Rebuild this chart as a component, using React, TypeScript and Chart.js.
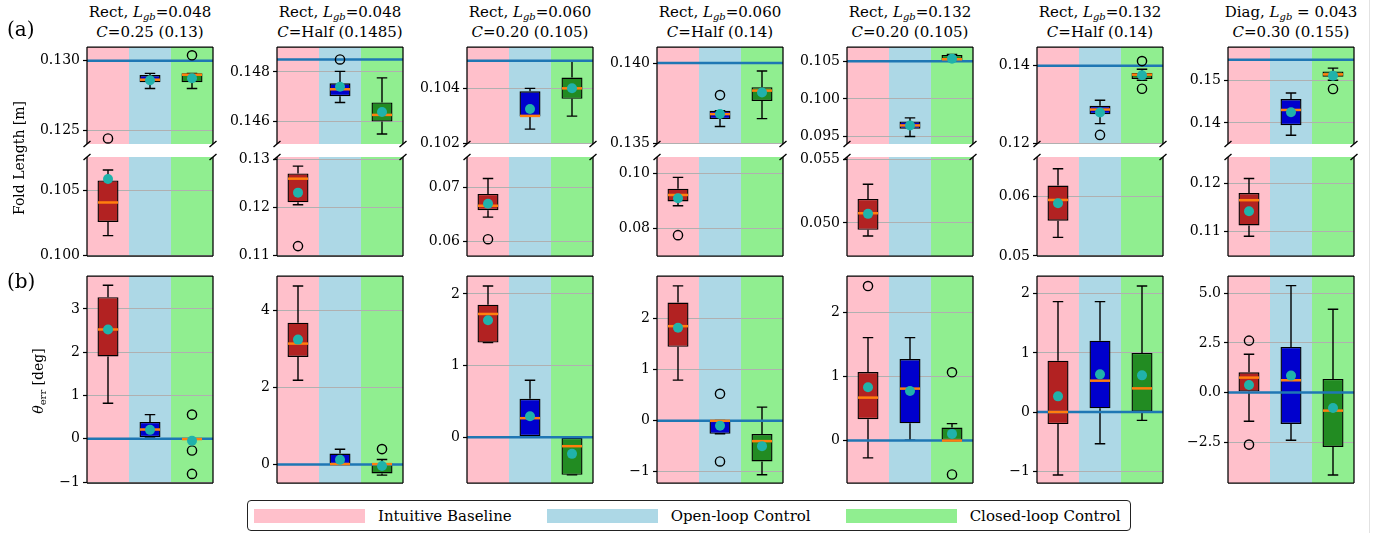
import React, { useEffect, useRef } from "react";
import { Chart, registerables } from "chart.js";

Chart.register(...registerables);

const FONT = "'DejaVu Serif', serif";

const CATEGORIES = ["Intuitive Baseline", "Open-loop Control", "Closed-loop Control"];
const BAND_COLORS = ["#ffc0cb", "#add8e6", "#90ee90"];
const BOX_COLORS = ["#b22222", "#0000cd", "#228b22"];
const MEDIAN_COLOR = "#ff7f0e";
const MEAN_COLOR = "#20b2aa";
const TARGET_COLOR = "#1f77b4";

const SHAPES = ["Rect", "Rect", "Rect", "Rect", "Rect", "Rect", "Diag"];
const LGB_TEXT = ["=0.048", "=0.048", "=0.060", "=0.060", "=0.132", "=0.132", " = 0.043"];
const C_TEXT = ["=0.25 (0.13)", "=Half (0.1485)", "=0.20 (0.105)", "=Half (0.14)", "=0.20 (0.105)", "=Half (0.14)", "=0.30 (0.155)"];

// ---- Fold length [m] (row a), per panel: [baseline, open-loop, closed-loop]
const FOLD_TARGET = [0.13, 0.1485, 0.105, 0.14, 0.105, 0.14, 0.155];
const FOLD_WHISKER_LOW = [
  [0.10155, 0.128, 0.128],
  [0.1206, 0.14677, 0.1455],
  [0.0645, 0.10252, 0.10299],
  [0.08832, 0.13606, 0.13655],
  [0.04898, 0.095, 0.105],
  [0.05311, 0.12516, 0.1363],
  [0.10903, 0.13709, 0.1501],
];
const FOLD_Q1 = [
  [0.1026, 0.12845, 0.12845],
  [0.1211, 0.14702, 0.146],
  [0.06576, 0.10298, 0.10362],
  [0.08989, 0.13652, 0.13765],
  [0.04946, 0.09602, 0.105],
  [0.0559, 0.1276, 0.13663],
  [0.11129, 0.13946, 0.15095],
];
const FOLD_MEDIAN = [
  [0.1041, 0.12864, 0.129],
  [0.126, 0.1473, 0.14627],
  [0.06659, 0.103, 0.104],
  [0.09225, 0.13683, 0.13829],
  [0.05077, 0.09647, 0.10527],
  [0.05939, 0.12878, 0.13772],
  [0.11657, 0.14307, 0.15151],
];
const FOLD_Q3 = [
  [0.1058, 0.12898, 0.1291],
  [0.1271, 0.14754, 0.14677],
  [0.06874, 0.10389, 0.10439],
  [0.09454, 0.13704, 0.1385],
  [0.0519, 0.097, 0.10584],
  [0.0618, 0.12972, 0.13815],
  [0.11807, 0.14567, 0.15222],
];
const FOLD_WHISKER_HIGH = [
  [0.1066, 0.1291, 0.1291],
  [0.1286, 0.14802, 0.14776],
  [0.07156, 0.104, 0.10499],
  [0.09868, 0.13704, 0.13951],
  [0.05305, 0.09748, 0.1059],
  [0.06464, 0.13114, 0.13909],
  [0.12109, 0.14709, 0.153],
];
const FOLD_MEAN = [
  [0.1059, 0.1286, 0.12875],
  [0.1231, 0.1474, 0.14639],
  [0.06695, 0.10325, 0.104],
  [0.09107, 0.13683, 0.13817],
  [0.05072, 0.09647, 0.10535],
  [0.05885, 0.12803, 0.13757],
  [0.11424, 0.14253, 0.15118],
];
const FOLD_OUTLIERS = [
  [[0.1244], [], [0.1304]],
  [[0.112], [0.1485], []],
  [[0.06047], [], []],
  [[0.07761], [0.13801], []],
  [[], [], []],
  [[], [0.12228], [0.1341, 0.14119]],
  [[], [], [0.14804]],
];
// broken axis: upper and lower parts
const FOLD_UPPER_RANGE = [
  [0.124, 0.131], [0.1451, 0.149], [0.10198, 0.1055], [0.13497, 0.141],
  [0.094, 0.1069], [0.11995, 0.1448], [0.135, 0.158],
];
const FOLD_UPPER_TICKS = [
  [0.125, 0.13], [0.146, 0.148], [0.102, 0.104], [0.135, 0.14],
  [0.095, 0.1, 0.105], [0.12, 0.14], [0.14, 0.15],
];
const FOLD_UPPER_DECIMALS = [3, 3, 3, 3, 3, 2, 2];
const FOLD_LOWER_RANGE = [
  [0.09998, 0.1076], [0.10995, 0.1305], [0.0574, 0.0755], [0.07, 0.1061],
  [0.0474, 0.0552], [0.04998, 0.0666], [0.1049, 0.1256],
];
const FOLD_LOWER_TICKS = [
  [0.1, 0.105], [0.11, 0.12, 0.13], [0.06, 0.07], [0.08, 0.1],
  [0.05, 0.055], [0.05, 0.06], [0.11, 0.12],
];
const FOLD_LOWER_DECIMALS = [3, 2, 2, 2, 3, 2, 2];

// ---- theta_err [deg] (row b)
const THETA_TARGET = [0, 0, 0, 0, 0, 0, 0];
const THETA_WHISKER_LOW = [
  [0.821, 0.04, -0.01],
  [2.186, 0.01, -0.276],
  [1.32, 0.014, -0.526],
  [0.797, -0.255, -1.059],
  [-0.269, 0.005, 0.0],
  [-1.066, -0.536, -0.141],
  [-1.443, -2.4, -4.144],
];
const THETA_Q1 = [
  [1.903, 0.04, -0.01],
  [2.79, 0.01, -0.233],
  [1.32, 0.014, -0.526],
  [1.451, -0.255, -0.797],
  [0.332, 0.269, 0.0],
  [-0.203, 0.062, 0.0],
  [0.05, -1.577, -2.735],
];
const THETA_MEDIAN = [
  [2.525, 0.215, -0.005],
  [3.136, 0.01, 0.01],
  [1.72, 0.265, -0.126],
  [1.856, 0.0, -0.399],
  [0.668, 0.808, 0.0],
  [0.0, 0.53, 0.4],
  [0.755, 0.621, -0.906],
];
const THETA_Q3 = [
  [3.27, 0.39, 0.0],
  [3.68, 0.285, 0.03],
  [1.85, 0.535, -0.01],
  [2.32, 0.007, -0.261],
  [1.067, 1.269, 0.202],
  [0.869, 1.207, 1.0],
  [1.023, 2.3, 0.688],
];
const THETA_WHISKER_HIGH = [
  [3.546, 0.56, 0.0],
  [4.63, 0.397, 0.13],
  [2.11, 0.795, -0.01],
  [2.647, 0.007, 0.268],
  [1.601, 1.601, 0.264],
  [1.867, 1.867, 2.13],
  [1.93, 5.386, 4.195],
];
const THETA_MEAN = [
  [2.525, 0.207, -0.046],
  [3.24, 0.12, -0.04],
  [1.633, 0.293, -0.233],
  [1.824, -0.098, -0.497],
  [0.829, 0.772, 0.104],
  [0.265, 0.637, 0.62],
  [0.386, 0.856, -0.772],
];
const THETA_OUTLIERS = [
  [[], [], [0.56, -0.27, -0.81]],
  [[], [], [0.4]],
  [[], [], []],
  [[], [0.53, -0.797], []],
  [[2.404], [], [1.062, -0.528]],
  [[], [], []],
  [[2.617, -2.617], [], []],
];
const THETA_RANGE = [
  [-1.02, 3.76], [-0.48, 4.89], [-0.64, 2.25], [-1.22, 2.84],
  [-0.66, 2.56], [-1.2, 2.3], [-4.55, 5.87],
];
const THETA_TICKS = [
  [-1, 0, 1, 2, 3], [0, 2, 4], [0, 1, 2], [-1, 0, 1, 2],
  [0, 1, 2], [-1, 0, 1, 2], [-2.5, 0, 2.5, 5],
];
const THETA_DECIMALS = [0, 0, 0, 0, 0, 0, 1];

// ---- layout
const COL_LEFT = [87, 277, 467, 657, 847, 1037, 1228];
const PANEL_W = 126;
const ROW_UPPER = { top: 47, height: 97 };
const ROW_LOWER = { top: 157, height: 99 };
const ROW_THETA = { top: 276, height: 207 };
const AX = 66;
const PAD_T = 12;
const PAD_B = 12;
const PAD_R = 8;

type Spines = "upper" | "lower" | "all";

interface PanelProps {
  col: number;
  row: { top: number; height: number };
  range: number[];
  ticks: number[];
  decimals: number;
  target: number;
  spines: Spines;
  wlo: number[];
  q1: number[];
  med: number[];
  q3: number[];
  whi: number[];
  mean: number[];
  outliers: number[][];
}

function fmt(v: number, d: number) {
  const s = Math.abs(v) < 1e-12 ? (0).toFixed(d) : v.toFixed(d);
  return s.replace("-", "\u2212");
}

function Panel(p: PanelProps) {
  const ref = useRef<HTMLCanvasElement | null>(null);
  const width = AX + PANEL_W + PAD_R;
  const height = PAD_T + p.row.height + PAD_B;

  useEffect(() => {
    const canvas = ref.current;
    if (!canvas) return;

    const panelPlugin = {
      id: "panelDecor",
      beforeDraw(chart: any) {
        const { ctx, chartArea } = chart;
        const xs = chart.scales.x;
        const step = xs.getPixelForValue(1) - xs.getPixelForValue(0);
        ctx.save();
        CATEGORIES.forEach((_, i) => {
          const cx = xs.getPixelForValue(i);
          ctx.fillStyle = BAND_COLORS[i];
          ctx.fillRect(cx - step / 2, chartArea.top, step, chartArea.bottom - chartArea.top);
        });
        ctx.restore();
      },
      afterDatasetDraw(chart: any, args: any) {
        if (args.index !== 0) return;
        const { ctx, chartArea } = chart;
        const ys = chart.scales.y;
        const meta = chart.getDatasetMeta(0);
        ctx.save();
        ctx.beginPath();
        ctx.rect(chartArea.left, chartArea.top, chartArea.right - chartArea.left, chartArea.bottom - chartArea.top);
        ctx.clip();
        // whiskers and caps
        ctx.strokeStyle = "#000";
        ctx.lineWidth = 1.4;
        meta.data.forEach((bar: any, i: number) => {
          const x = bar.x;
          const half = bar.width / 2;
          const yq1 = ys.getPixelForValue(p.q1[i]);
          const yq3 = ys.getPixelForValue(p.q3[i]);
          const ylo = ys.getPixelForValue(p.wlo[i]);
          const yhi = ys.getPixelForValue(p.whi[i]);
          ctx.beginPath();
          ctx.moveTo(x, yq3);
          ctx.lineTo(x, yhi);
          ctx.moveTo(x, yq1);
          ctx.lineTo(x, ylo);
          ctx.moveTo(x - half / 2, yhi);
          ctx.lineTo(x + half / 2, yhi);
          ctx.moveTo(x - half / 2, ylo);
          ctx.lineTo(x + half / 2, ylo);
          ctx.stroke();
        });
        // target line
        const yt = ys.getPixelForValue(p.target);
        ctx.strokeStyle = TARGET_COLOR;
        ctx.lineWidth = 2.5;
        ctx.beginPath();
        ctx.moveTo(chartArea.left, yt);
        ctx.lineTo(chartArea.right, yt);
        ctx.stroke();
        // medians
        ctx.strokeStyle = MEDIAN_COLOR;
        ctx.lineWidth = 2.5;
        meta.data.forEach((bar: any, i: number) => {
          const ym = ys.getPixelForValue(p.med[i]);
          ctx.beginPath();
          ctx.moveTo(bar.x - bar.width / 2 + 0.5, ym);
          ctx.lineTo(bar.x + bar.width / 2 - 0.5, ym);
          ctx.stroke();
        });
        ctx.restore();
      },
      afterDraw(chart: any) {
        const { ctx, chartArea } = chart;
        const { left, right, top, bottom } = chartArea;
        ctx.save();
        ctx.strokeStyle = "#000";
        ctx.lineWidth = 1.25;
        ctx.beginPath();
        ctx.moveTo(left, top);
        ctx.lineTo(left, bottom);
        ctx.moveTo(right, top);
        ctx.lineTo(right, bottom);
        if (p.spines !== "lower") {
          ctx.moveTo(left, top);
          ctx.lineTo(right, top);
        }
        if (p.spines !== "upper") {
          ctx.moveTo(left, bottom);
          ctx.lineTo(right, bottom);
        }
        ctx.stroke();
        // break marks
        if (p.spines !== "all") {
          const y = p.spines === "upper" ? bottom : top;
          ctx.lineWidth = 1.4;
          ctx.beginPath();
          [left, right].forEach((x) => {
            ctx.moveTo(x - 3.5, y + 3);
            ctx.lineTo(x + 3.5, y - 3);
          });
          ctx.stroke();
        }
        ctx.restore();
      },
    };

    const meanData = p.mean.map((v, i) => ({ x: CATEGORIES[i], y: v }));
    const outlierData: { x: string; y: number }[] = [];
    p.outliers.forEach((arr, i) => arr.forEach((v) => outlierData.push({ x: CATEGORIES[i], y: v })));

    const chart = new Chart(canvas, {
      type: "bar",
      data: {
        labels: CATEGORIES,
        datasets: [
          {
            type: "bar",
            data: p.q1.map((v, i) => [v, p.q3[i]]),
            backgroundColor: BOX_COLORS,
            borderColor: "#000",
            borderWidth: 1.4,
            borderSkipped: false,
            barPercentage: 0.5,
            categoryPercentage: 1,
            clip: 0,
            order: 3,
          } as any,
          {
            type: "line",
            data: outlierData,
            showLine: false,
            pointRadius: 4.6,
            pointBackgroundColor: "rgba(0,0,0,0)",
            pointBorderColor: "#000",
            pointBorderWidth: 1.4,
            clip: 0,
            order: 2,
          } as any,
          {
            type: "line",
            data: meanData,
            showLine: false,
            pointRadius: 5,
            pointBackgroundColor: MEAN_COLOR,
            pointBorderColor: MEAN_COLOR,
            pointBorderWidth: 0,
            clip: 0,
            order: 1,
          } as any,
        ],
      },
      options: {
        responsive: false,
        maintainAspectRatio: false,
        animation: false,
        devicePixelRatio: 1,
        events: [],
        layout: { padding: { left: 0, right: PAD_R, top: PAD_T, bottom: PAD_B } },
        plugins: { legend: { display: false }, tooltip: { enabled: false }, title: { display: false } },
        scales: {
          x: { type: "category", display: false, offset: true, grid: { display: false } },
          y: {
            type: "linear",
            min: p.range[0],
            max: p.range[1],
            afterBuildTicks: (scale: any) => {
              scale.ticks = p.ticks.map((v) => ({ value: v }));
            },
            afterFit: (scale: any) => {
              scale.width = AX;
            },
            ticks: {
              autoSkip: false,
              padding: 3,
              color: "#000",
              font: { family: FONT, size: 14 },
              callback: (v: any) => fmt(Number(v), p.decimals),
            },
            grid: {
              color: "#b0b0b0",
              lineWidth: 1,
              drawTicks: true,
              tickLength: 4,
              tickColor: "#000",
              tickWidth: 1.2,
            },
            border: { display: false },
          },
        },
      } as any,
      plugins: [panelPlugin],
    });
    return () => chart.destroy();
  }, []);

  return (
    <canvas
      ref={ref}
      width={width}
      height={height}
      style={{
        position: "absolute",
        left: COL_LEFT[p.col] - AX,
        top: p.row.top - PAD_T,
        width,
        height,
      }}
    />
  );
}

const subStyle: React.CSSProperties = { fontSize: 10, verticalAlign: "-3px", lineHeight: 0 };

export default function App() {
  const cols = [0, 1, 2, 3, 4, 5, 6];
  return (
    <div
      style={{
        position: "absolute",
        left: 0,
        top: 0,
        width: 1385,
        height: 533,
        overflow: "hidden",
        background: "#fff",
        fontFamily: FONT,
        color: "#000",
      }}
    >
      {cols.map((c) => (
        <div
          key={"t" + c}
          style={{
            position: "absolute",
            left: COL_LEFT[c] + PANEL_W / 2 - 95,
            top: 2,
            width: 190,
            textAlign: "center",
            fontSize: 15,
            lineHeight: "20px",
            whiteSpace: "nowrap",
          }}
        >
          <div>
            {SHAPES[c]}, <i>L</i>
            <sub style={subStyle}>
              <i>gb</i>
            </sub>
            {LGB_TEXT[c]}
          </div>
          <div>
            <i>C</i>
            {C_TEXT[c]}
          </div>
        </div>
      ))}

      {cols.map((c) => (
        <React.Fragment key={"p" + c}>
          <Panel
            col={c}
            row={ROW_UPPER}
            range={FOLD_UPPER_RANGE[c]}
            ticks={FOLD_UPPER_TICKS[c]}
            decimals={FOLD_UPPER_DECIMALS[c]}
            target={FOLD_TARGET[c]}
            spines="upper"
            wlo={FOLD_WHISKER_LOW[c]}
            q1={FOLD_Q1[c]}
            med={FOLD_MEDIAN[c]}
            q3={FOLD_Q3[c]}
            whi={FOLD_WHISKER_HIGH[c]}
            mean={FOLD_MEAN[c]}
            outliers={FOLD_OUTLIERS[c]}
          />
          <Panel
            col={c}
            row={ROW_LOWER}
            range={FOLD_LOWER_RANGE[c]}
            ticks={FOLD_LOWER_TICKS[c]}
            decimals={FOLD_LOWER_DECIMALS[c]}
            target={FOLD_TARGET[c]}
            spines="lower"
            wlo={FOLD_WHISKER_LOW[c]}
            q1={FOLD_Q1[c]}
            med={FOLD_MEDIAN[c]}
            q3={FOLD_Q3[c]}
            whi={FOLD_WHISKER_HIGH[c]}
            mean={FOLD_MEAN[c]}
            outliers={FOLD_OUTLIERS[c]}
          />
          <Panel
            col={c}
            row={ROW_THETA}
            range={THETA_RANGE[c]}
            ticks={THETA_TICKS[c]}
            decimals={THETA_DECIMALS[c]}
            target={THETA_TARGET[c]}
            spines="all"
            wlo={THETA_WHISKER_LOW[c]}
            q1={THETA_Q1[c]}
            med={THETA_MEDIAN[c]}
            q3={THETA_Q3[c]}
            whi={THETA_WHISKER_HIGH[c]}
            mean={THETA_MEAN[c]}
            outliers={THETA_OUTLIERS[c]}
          />
        </React.Fragment>
      ))}

      <div style={{ position: "absolute", left: 7, top: 17, fontSize: 20, lineHeight: "24px" }}>(a)</div>
      <div style={{ position: "absolute", left: 7, top: 269, fontSize: 20, lineHeight: "24px" }}>(b)</div>

      <div
        style={{
          position: "absolute",
          left: 19,
          top: 158,
          transform: "translate(-50%, -50%) rotate(-90deg)",
          fontSize: 14,
          whiteSpace: "nowrap",
        }}
      >
        Fold Length [m]
      </div>
      <div
        style={{
          position: "absolute",
          left: 38,
          top: 381,
          transform: "translate(-50%, -50%) rotate(-90deg)",
          fontSize: 14,
          whiteSpace: "nowrap",
        }}
      >
        <i>θ</i>
        <sub style={subStyle}>err</sub> [deg]
      </div>

      <div
        style={{
          position: "absolute",
          left: 247,
          top: 500,
          width: 884,
          height: 31,
          boxSizing: "border-box",
          border: "1.5px solid #222",
          borderRadius: 4,
          display: "flex",
          alignItems: "center",
          paddingLeft: 6,
          fontSize: 15,
        }}
      >
        {CATEGORIES.map((name, i) => (
          <div key={name} style={{ display: "flex", alignItems: "center", marginRight: i < 2 ? 35 : 0 }}>
            <div style={{ width: 111, height: 14, background: BAND_COLORS[i], marginRight: 13 }} />
            <span style={{ whiteSpace: "nowrap" }}>{name}</span>
          </div>
        ))}
      </div>

      <div style={{ position: "absolute", left: 1369, top: 0, width: 1, height: 533, background: "#e2e2e2" }} />
    </div>
  );
}
